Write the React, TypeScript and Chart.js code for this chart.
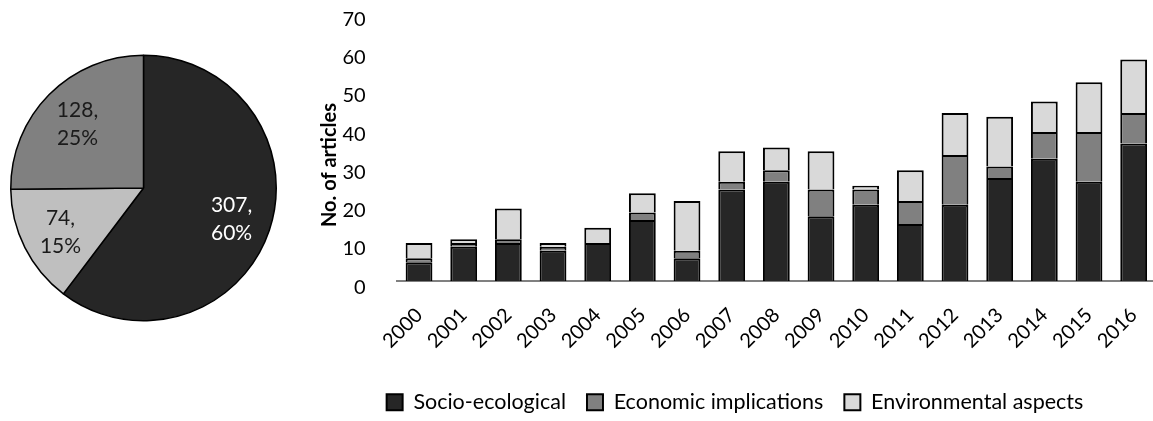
import React, { useEffect, useRef } from "react";
import { Chart, registerables } from "chart.js";

Chart.register(...registerables);

const years = [
  "2000", "2001", "2002", "2003", "2004", "2005", "2006", "2007", "2008",
  "2009", "2010", "2011", "2012", "2013", "2014", "2015", "2016",
];
const socioEcological = [5, 9, 10, 8, 10, 16, 6, 24, 26, 17, 20, 15, 20, 27, 32, 26, 36];
const economicImplications = [1, 1, 1, 1, 0, 2, 2, 2, 3, 7, 4, 6, 13, 3, 7, 13, 8];
const environmentalAspects = [4, 1, 8, 1, 4, 5, 13, 8, 6, 10, 1, 8, 11, 13, 8, 13, 14];
const seriesNames = ["Socio-ecological", "Economic implications", "Environmental aspects"];
const yAxisTitle = "No. of articles";
const yMin = 0;
const yMax = 70;
const yStep = 10;

const pieValues = [307, 74, 128];
const pieColors = ["#262626", "#bfbfbf", "#808080"];
const pieLabelColors = ["#ffffff", "#1a1a1a", "#1a1a1a"];

const FONT = "Lato";

const pieLabelPlugin = {
  id: "pieLabels",
  afterDatasetsDraw(chart: any) {
    const ctx = chart.ctx;
    const meta = chart.getDatasetMeta(0);
    const values = chart.data.datasets[0].data as number[];
    const total = values.reduce((a, b) => a + b, 0);
    ctx.save();
    ctx.font = `21px ${FONT}`;
    ctx.textAlign = "center";
    ctx.textBaseline = "middle";
    meta.data.forEach((arc: any, i: number) => {
      const p = arc.getProps(["x", "y", "startAngle", "endAngle", "outerRadius"], true);
      const mid = (p.startAngle + p.endAngle) / 2;
      const r = p.outerRadius * 0.7;
      const cx = p.x + Math.cos(mid) * r;
      const cy = p.y + Math.sin(mid) * r + 2;
      ctx.fillStyle = pieLabelColors[i];
      ctx.fillText(`${values[i]},`, cx, cy - 14);
      ctx.fillText(`${Math.round((values[i] / total) * 100)}%`, cx, cy + 14);
    });
    ctx.restore();
  },
};

const yTitlePlugin = {
  id: "yTitle",
  afterDraw(chart: any) {
    const { ctx, chartArea } = chart;
    ctx.save();
    ctx.translate(chartArea.left - 67, chartArea.top + 151.5);
    ctx.rotate(-Math.PI / 2);
    ctx.font = `bold 20px ${FONT}`;
    ctx.fillStyle = "#000";
    ctx.textAlign = "center";
    ctx.textBaseline = "middle";
    ctx.fillText(yAxisTitle, 0, 0);
    ctx.restore();
  },
};

export default function App() {
  const pieRef = useRef<HTMLCanvasElement>(null);
  const barRef = useRef<HTMLCanvasElement>(null);

  useEffect(() => {
    Chart.defaults.font.family = FONT;
    const pie = new Chart(pieRef.current!, {
      type: "pie",
      data: {
        labels: seriesNames,
        datasets: [
          {
            data: pieValues,
            backgroundColor: pieColors,
            borderColor: "#000",
            borderWidth: 1.5,
          },
        ],
      },
      options: {
        animation: false,
        responsive: true,
        maintainAspectRatio: false,
        layout: { padding: 10 },
        plugins: { legend: { display: false }, tooltip: { enabled: false } },
      },
      plugins: [pieLabelPlugin],
    });

    const mk = (label: string, data: number[], color: string) => ({
      label,
      data,
      backgroundColor: color,
      borderColor: "#000",
      borderWidth: 2,
      borderSkipped: "start" as const,
      barPercentage: 0.6,
      categoryPercentage: 1,
    });

    const bar = new Chart(barRef.current!, {
      type: "bar",
      data: {
        labels: years,
        datasets: [
          mk(seriesNames[0], socioEcological, "#262626"),
          mk(seriesNames[1], economicImplications, "#808080"),
          mk(seriesNames[2], environmentalAspects, "#d9d9d9"),
        ],
      },
      options: {
        animation: false,
        responsive: true,
        maintainAspectRatio: false,
        layout: { padding: { top: 13.5, right: 18, left: 0, bottom: 0 } },
        scales: {
          x: {
            stacked: true,
            grid: { display: false },
            border: { display: true, color: "#808080", width: 2 },
            ticks: {
              autoSkip: false,
              maxRotation: 45,
              minRotation: 45,
              padding: 14,
              color: "#000",
              font: { family: FONT, size: 20 },
            },
            afterFit: (s: any) => {
              s.height = 89.25;
              s.paddingLeft = 0;
              s.paddingRight = 0;
            },
          },
          y: {
            stacked: true,
            min: yMin,
            max: yMax,
            grid: { display: false },
            border: { display: false },
            ticks: {
              stepSize: yStep,
              padding: 23,
              labelOffset: 6,
              color: "#000",
              font: { family: FONT, size: 20 },
            },
            afterFit: (s: any) => {
              s.width = 82.7;
              s.paddingTop = 0;
              s.paddingBottom = 0;
            },
          },
        },
        plugins: {
          legend: {
            position: "bottom",
            labels: {
              boxWidth: 16,
              boxHeight: 16,
              padding: 21,
              color: "#000",
              font: { family: FONT, size: 21.5 },
            },
          },
          tooltip: { enabled: false },
        },
      },
      plugins: [yTitlePlugin],
    });

    return () => {
      pie.destroy();
      bar.destroy();
    };
  }, []);

  return (
    <div
      style={{
        position: "absolute",
        left: 0,
        top: 0,
        width: 1153,
        height: 421,
        overflow: "hidden",
        background: "#fff",
      }}
    >
      <div style={{ position: "absolute", left: 0, top: 0, width: 287, height: 376 }}>
        <canvas ref={pieRef} />
      </div>
      <div style={{ position: "absolute", left: 314, top: 0, width: 860, height: 423 }}>
        <canvas ref={barRef} />
      </div>
    </div>
  );
}
